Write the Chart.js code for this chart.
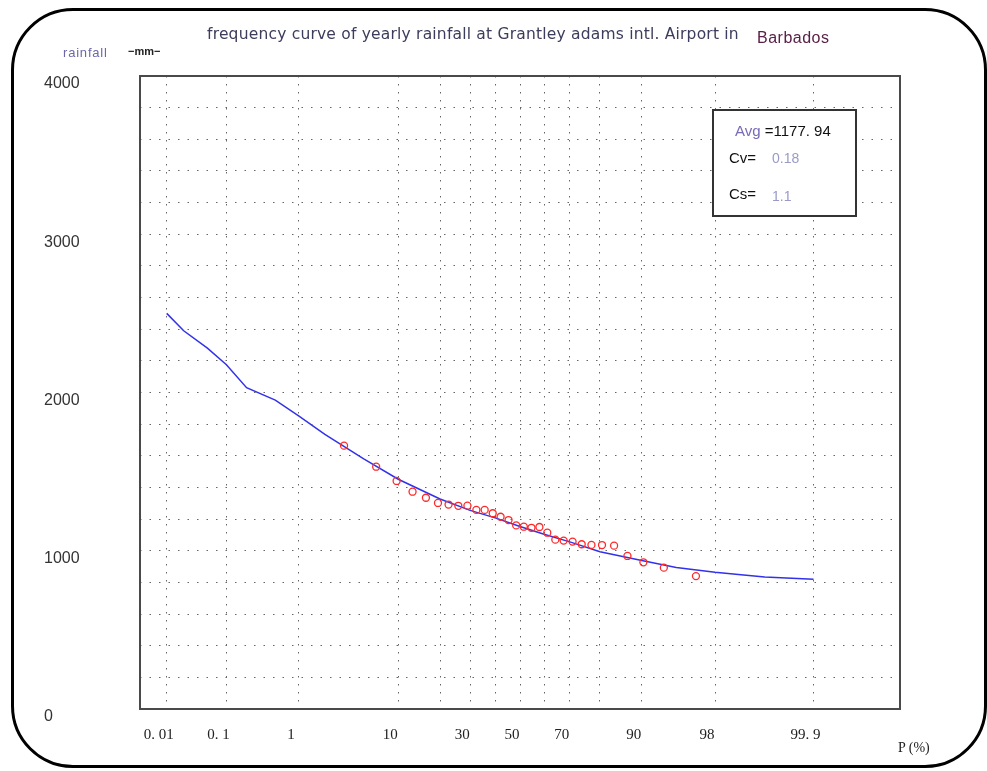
<!DOCTYPE html>
<html>
<head>
<meta charset="utf-8">
<script src="https://cdn.jsdelivr.net/npm/chart.js@4.4.1/dist/chart.umd.min.js"></script>
<style>
  body { margin: 0; background: #fff; font-family: "Liberation Sans", Arial, sans-serif; }
  #wrap { position: relative; width: 987px; height: 771px; overflow: hidden; }
  #frame { position: absolute; left: 11px; top: 8px; width: 970px; height: 754px;
           border: 3px solid #000; border-radius: 62px; }
  canvas { position: absolute; left: 0; top: 0; }
  .txt { position: absolute; white-space: nowrap; }
  #title { left: 207px; top: 25px; font-size: 15.5px; letter-spacing: 0.2px; color: #3c3c5c;
           font-family: "DejaVu Sans", sans-serif; }
  #country { left: 757px; top: 29px; font-size: 16px; letter-spacing: 0.5px; color: #5a2048; }
  #yname { left: 63px; top: 45px; font-size: 13px; letter-spacing: 0.8px; color: #6a68a8; }
  #yunit { left: 128px; top: 45px; font-size: 11px; color: #222; font-weight: bold; }
  #xname { left: 898px; top: 740px; font-size: 14px; color: #222; font-family: "Liberation Serif", serif; }
</style>
</head>
<body>
<div id="wrap">
  <div id="frame"></div>
  <canvas id="myChart" width="987" height="771"></canvas>
  <div class="txt" id="title">frequency curve of yearly rainfall at Grantley adams intl. Airport in</div>
  <div class="txt" id="country">Barbados</div>
  <div class="txt" id="yname">rainfall</div>
  <div class="txt" id="yunit">&#8722;mm&#8722;</div>
  <div class="txt" id="xname">P (%)</div>
</div>
<script>
// probability grid (exceedance %, normal probability paper)
const gridP = [0.01, 0.1, 1, 10, 20, 30, 40, 50, 60, 70, 80, 90, 98, 99.9];
const gridLabels = ['0. 01', '0. 1', '1', '10', '', '30', '', '50', '', '70', '', '90', '98', '99. 9'];

// fitted frequency curve
const curveP = [0.01, 0.02, 0.05, 0.1, 0.2, 0.5, 1, 2, 5, 10, 20, 30, 40, 50, 60, 70, 80, 90, 95, 98, 99, 99.5, 99.9];
const curveMm = [2500, 2390, 2280, 2175, 2030, 1952, 1850, 1735, 1580, 1452, 1327, 1255, 1206, 1153, 1104, 1056, 994, 939, 894, 864, 848, 834, 820];

// observed yearly rainfall (empirical frequency)
const pointP = [3.2, 6.5, 9.7, 12.9, 16.1, 19.4, 22.6, 25.8, 29.0, 32.3, 35.5, 38.7, 41.9, 45.2, 48.4,
                51.6, 54.8, 58.1, 61.3, 64.5, 67.7, 71.0, 74.2, 77.4, 80.6, 83.9, 87.1, 90.3, 93.5, 96.8];
const pointMm = [1664, 1531, 1441, 1373, 1335, 1302, 1292, 1284, 1285, 1258, 1258, 1237, 1215, 1194, 1160,
                 1152, 1145, 1150, 1114, 1070, 1064, 1058, 1041, 1037, 1036, 1032, 967, 927, 893, 840];

const avgText = '=1177. 94';
const cvText = '0.18';
const csText = '1.1';

// inverse normal cdf (Acklam), maps P% onto the probability axis
function probit(pct) {
  const p = pct / 100;
  const a = [-3.969683028665376e+01, 2.209460984245205e+02, -2.759285104469687e+02, 1.383577518672690e+02, -3.066479806614716e+01, 2.506628277459239e+00];
  const b = [-5.447609879822406e+01, 1.615858368580409e+02, -1.556989798598866e+02, 6.680131188771972e+01, -1.328068155288572e+01];
  const c = [-7.784894002430293e-03, -3.223964580411365e-01, -2.400758277161838e+00, -2.549732539343734e+00, 4.374664141464968e+00, 2.938163982698783e+00];
  const d = [7.784695709041462e-03, 3.224671290700398e-01, 2.445134137142996e+00, 3.754408661907416e+00];
  const plow = 0.02425;
  let q, r;
  if (p < plow) {
    q = Math.sqrt(-2 * Math.log(p));
    return (((((c[0]*q+c[1])*q+c[2])*q+c[3])*q+c[4])*q+c[5]) / ((((d[0]*q+d[1])*q+d[2])*q+d[3])*q+1);
  }
  if (p <= 1 - plow) {
    q = p - 0.5; r = q * q;
    return (((((a[0]*r+a[1])*r+a[2])*r+a[3])*r+a[4])*r+a[5])*q / (((((b[0]*r+b[1])*r+b[2])*r+b[3])*r+b[4])*r+1);
  }
  q = Math.sqrt(-2 * Math.log(1 - p));
  return -(((((c[0]*q+c[1])*q+c[2])*q+c[3])*q+c[4])*q+c[5]) / ((((d[0]*q+d[1])*q+d[2])*q+d[3])*q+1);
}

const framePlugin = {
  id: 'frame',
  afterDraw(chart) {
    const { ctx, chartArea: ca } = chart;
    ctx.save();
    ctx.strokeStyle = '#4a4a4a';
    ctx.lineWidth = 2;
    ctx.strokeRect(ca.left, ca.top, ca.right - ca.left, ca.bottom - ca.top);

    // statistics box
    const bx = ca.right - 187, by = ca.top + 34;
    ctx.fillStyle = '#fff';
    ctx.fillRect(bx, by, 143, 106);
    ctx.strokeStyle = '#333';
    ctx.strokeRect(bx, by, 143, 106);
    ctx.font = '15px "Liberation Sans", Arial, sans-serif';
    ctx.textBaseline = 'alphabetic';
    ctx.fillStyle = '#7a6ab8';
    ctx.fillText('Avg', bx + 22, by + 26);
    ctx.fillStyle = '#111';
    ctx.fillText(avgText, bx + 22 + ctx.measureText('Avg ').width, by + 26);
    ctx.fillText('Cv=', bx + 16, by + 53);
    ctx.fillText('Cs=', bx + 16, by + 89);
    ctx.fillStyle = '#9a9ac8';
    ctx.font = '14px "Liberation Sans", Arial, sans-serif';
    ctx.fillText(cvText, bx + 59, by + 53);
    ctx.fillText(csText, bx + 59, by + 91);
    ctx.restore();
  }
};

new Chart(document.getElementById('myChart'), {
  type: 'scatter',
  data: {
    datasets: [{
      label: 'curve',
      data: curveP.map((p, i) => ({ x: probit(p), y: curveMm[i] })),
      showLine: true,
      borderColor: 'rgb(50,50,235)',
      borderWidth: 1.5,
      pointRadius: 0,
      tension: 0,
      order: 2
    }, {
      label: 'observed',
      data: pointP.map((p, i) => ({ x: probit(p), y: pointMm[i] })),
      showLine: false,
      pointRadius: 3.5,
      pointBorderWidth: 1.3,
      pointBorderColor: 'rgb(255,40,40)',
      pointBackgroundColor: 'rgba(0,0,0,0)',
      order: 1
    }]
  },
  options: {
    responsive: false,
    animation: false,
    layout: { padding: { left: 44, top: 76, right: 87, bottom: 22 } },
    plugins: {
      legend: { display: false },
      tooltip: { enabled: false }
    },
    scales: {
      x: {
        type: 'linear',
        min: -4,
        max: 4,
        afterBuildTicks: scale => { scale.ticks = gridP.map(p => ({ value: probit(p) })); },
        afterFit: scale => { scale.height = 40; },
        grid: { color: '#666', lineWidth: 1, drawTicks: false },
        border: { display: false, dash: [1.5, 6.5] },
        ticks: {
          autoSkip: false,
          maxRotation: 0,
          padding: 17,
          labelOffset: -8,
          color: '#222',
          font: { family: '"Liberation Serif", serif', size: 15 },
          callback: (v, i) => gridLabels[i]
        }
      },
      y: {
        min: 0,
        max: 4000,
        afterFit: scale => { scale.width = 96; },
        grid: { color: '#666', lineWidth: 1, drawTicks: false },
        border: { display: false, dash: [1.5, 8] },
        ticks: {
          stepSize: 200,
          crossAlign: 'far',
          labelOffset: 8,
          color: '#333',
          font: { family: '"Liberation Sans", Arial, sans-serif', size: 16 },
          callback: v => (v % 1000 === 0 ? String(v) : '')
        }
      }
    }
  },
  plugins: [framePlugin]
});
</script>
</body>
</html>
